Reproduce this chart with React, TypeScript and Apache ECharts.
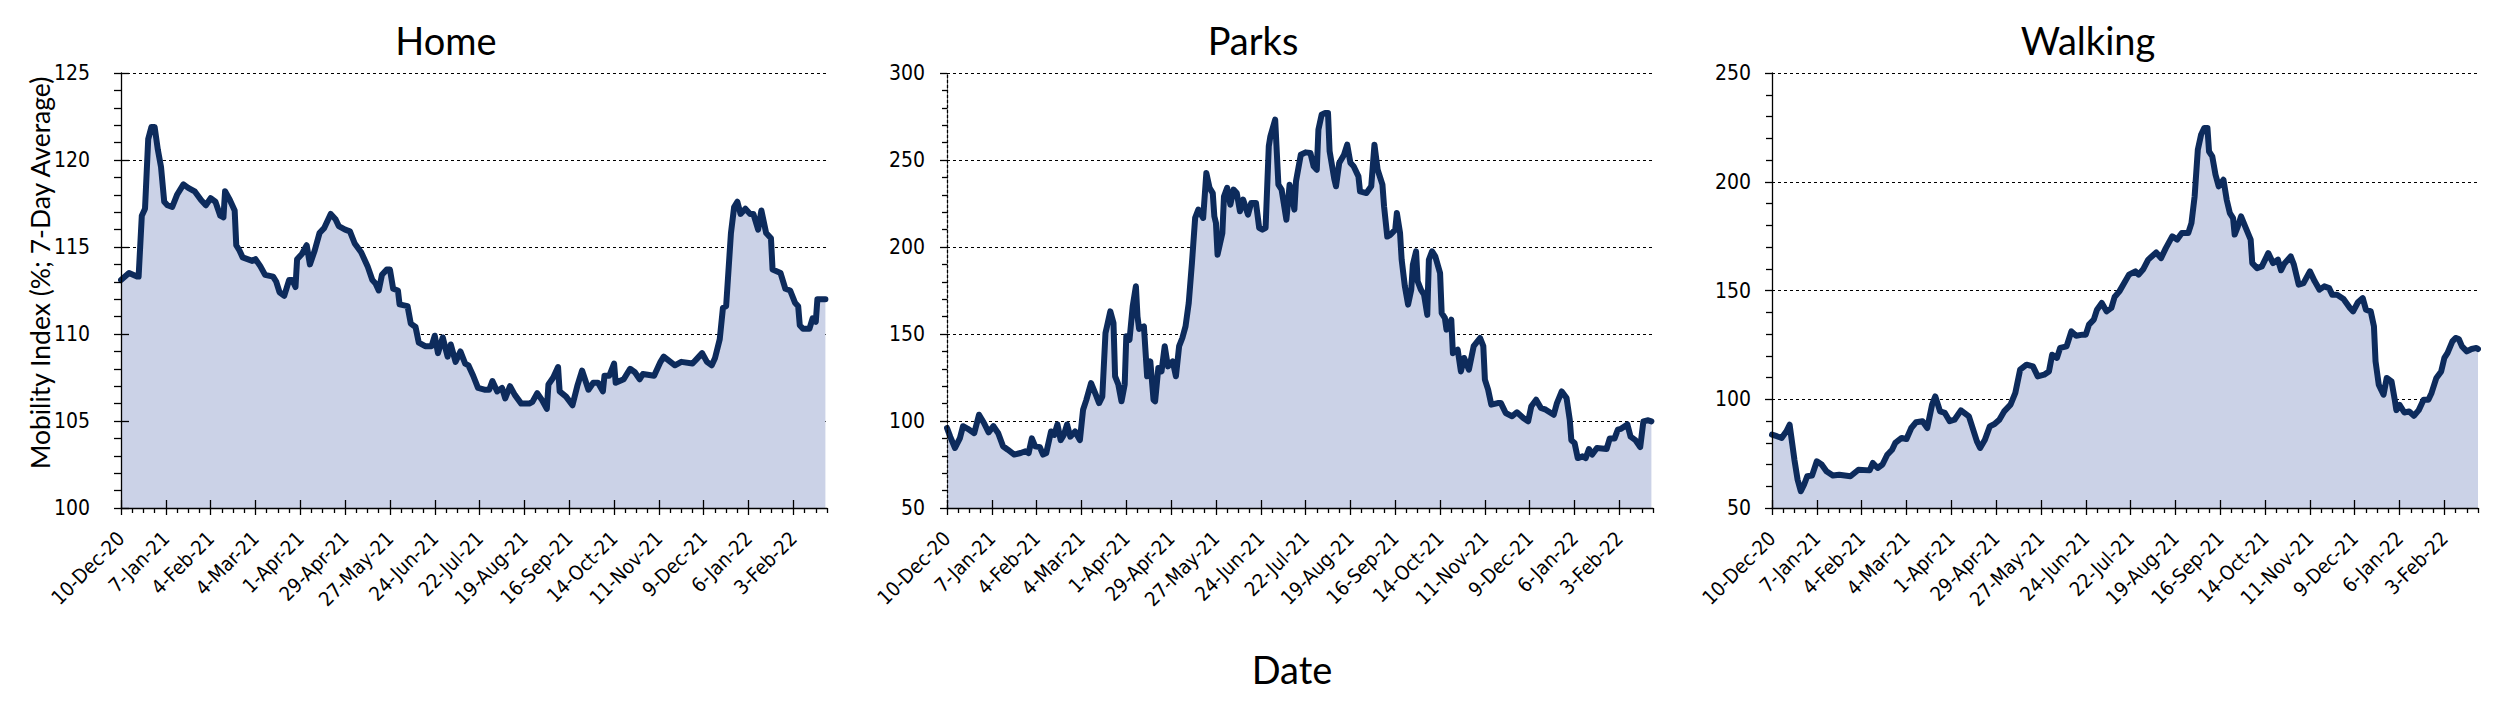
import React, { useEffect, useRef } from "react";
import * as echarts from "echarts";

// Day offsets from 10-Dec-20 of the labelled (major) ticks, and their labels
const majorDays = [0, 28, 56, 84, 112, 140, 168, 196, 224, 252, 280, 308, 336, 364, 392, 420];
const tickLabels = [
  "10-Dec-20", "7-Jan-21", "4-Feb-21", "4-Mar-21", "1-Apr-21", "29-Apr-21", "27-May-21", "24-Jun-21",
  "22-Jul-21", "19-Aug-21", "16-Sep-21", "14-Oct-21", "11-Nov-21", "9-Dec-21", "6-Jan-22", "3-Feb-22",
];
const minorDays = [
  7, 14, 21, 35, 42, 49, 63, 70, 77, 91, 98, 105, 119, 126, 133, 147, 154, 161, 175, 182, 189,
  203, 210, 217, 231, 238, 245, 259, 266, 273, 287, 294, 301, 315, 322, 329, 343, 350, 357,
  371, 378, 385, 399, 406, 413, 427, 434, 441,
];
const lastDay = 441;

// [day offset from 10-Dec-20, value]
const home: [number, number][] = [
  [0, 113.1], [5, 113.5], [10, 113.3], [11, 113.3], [13, 116.8], [15, 117.2], [17, 121.2], [19, 121.9],
  [21, 121.9], [23, 120.6], [25, 119.6], [27, 117.6], [29, 117.4], [32, 117.3], [35, 118.0], [39, 118.6],
  [42, 118.4], [46, 118.2], [50, 117.7], [53, 117.4], [56, 117.8], [59, 117.6], [62, 116.8], [64, 116.7],
  [65, 118.2], [68, 117.7], [71, 117.1], [72, 115.1], [74, 114.8], [76, 114.4], [82, 114.2], [84, 114.3],
  [87, 113.9], [90, 113.4], [95, 113.3], [97, 113.0], [99, 112.4], [102, 112.2], [105, 113.1], [107, 113.1],
  [109, 112.7], [110, 114.3], [113, 114.6], [116, 115.1], [118, 114.0], [121, 114.8], [124, 115.8],
  [127, 116.1], [131, 116.9], [134, 116.6], [136, 116.2], [140, 116.0], [143, 115.9], [146, 115.2],
  [150, 114.7], [154, 113.9], [157, 113.1], [159, 112.9], [161, 112.5], [163, 113.4], [166, 113.7],
  [168, 113.7], [170, 112.6], [173, 112.5], [174, 111.7], [179, 111.6], [181, 110.6], [184, 110.4],
  [186, 109.5], [190, 109.3], [194, 109.3], [196, 109.9], [198, 108.9], [201, 109.8], [204, 108.7],
  [206, 109.4], [209, 108.4], [212, 109.0], [215, 108.3], [217, 108.2], [220, 107.6], [223, 106.9],
  [227, 106.8], [230, 106.8], [232, 107.3], [235, 106.7], [238, 106.9], [240, 106.3], [243, 107.0],
  [246, 106.5], [250, 106.0], [255, 106.0], [257, 106.1], [260, 106.6], [263, 106.2], [266, 105.7],
  [267, 107.1], [270, 107.5], [273, 108.1], [274, 106.7], [278, 106.4], [282, 105.9], [285, 107.0],
  [288, 107.9], [292, 106.8], [295, 107.2], [298, 107.2], [301, 106.7], [302, 107.6], [305, 107.6],
  [308, 108.3], [309, 107.2], [314, 107.4], [318, 108.0], [321, 107.8], [324, 107.4], [326, 107.7],
  [333, 107.6], [337, 108.4], [339, 108.7], [346, 108.2], [350, 108.4], [357, 108.3], [360, 108.6],
  [363, 108.9], [366, 108.4], [369, 108.2], [371, 108.6], [374, 109.7], [376, 111.5], [378, 111.6],
  [381, 115.8], [383, 117.3], [385, 117.6], [387, 116.9], [390, 117.2], [393, 116.9], [395, 116.9],
  [398, 116.0], [400, 117.1], [403, 115.8], [406, 115.5], [407, 113.7], [412, 113.5], [415, 112.6],
  [418, 112.5], [421, 111.8], [423, 111.6], [424, 110.5], [426, 110.3], [430, 110.3], [432, 110.9],
  [434, 110.7], [435, 112.0], [440, 112.0],
];

const parks: [number, number][] = [
  [0, 96], [2, 91], [5, 84.5], [8, 90], [10, 97], [13, 95.5], [17, 93], [20, 103.6], [23, 99], [26, 93.5],
  [29, 97], [32, 93], [35, 85.5], [38, 83.5], [42, 80.7], [46, 81.6], [49, 82.6], [51, 81.6], [53, 90],
  [55, 85.5], [58, 85], [60, 80.7], [62, 81.6], [65, 94], [67, 92], [69, 98], [71, 89], [73, 92], [75, 98],
  [77, 91], [80, 94], [83, 89], [85, 106.5], [87, 112], [90, 121.8], [93, 115], [95, 110.3], [97, 114],
  [99, 150.6], [100, 154.6], [102, 163], [104, 156.3], [105, 125.7], [107, 121], [109, 111.3], [111, 121],
  [112, 148.7], [114, 146.7], [116, 166], [118, 177.4], [119, 160], [120, 152.9], [123, 154.4],
  [125, 125.7], [127, 134.3], [129, 112.2], [130, 111.3], [132, 130.5], [134, 128.5], [136, 143],
  [138, 131.4], [141, 134.3], [143, 125.7], [145, 143], [147, 147.7], [149, 154.4], [151, 167.8],
  [153, 190.8], [155, 216.7], [157, 221.5], [160, 216.7], [162, 242.5], [164, 234], [166, 231],
  [167, 217.6], [168, 213.8], [169, 195.6], [172, 208], [173, 229], [175, 234], [177, 224.3], [179, 233],
  [181, 231], [183, 220.5], [185, 227.2], [188, 218.6], [190, 225.3], [193, 225.3], [195, 211], [197, 210],
  [199, 211], [201, 257.9], [202, 263.6], [205, 273.2], [207, 235.8], [209, 233], [212, 215.7],
  [214, 235.8], [217, 221.5], [218, 237.7], [221, 253], [224, 254.4], [227, 254], [229, 246.4],
  [231, 244.4], [232, 267.4], [234, 276], [236, 277], [238, 277], [239, 255], [242, 238.7], [243, 234.9],
  [245, 248.3], [248, 253], [250, 258.8], [252, 248.3], [254, 246.4], [257, 240.6], [258, 232], [262, 231],
  [265, 234.9], [267, 258.8], [269, 244.4], [272, 235.8], [273, 223.4], [275, 206], [277, 207], [280, 210],
  [281, 219.5], [283, 208], [284, 192.7], [286, 177.4], [288, 166.9], [290, 175.5], [291, 189.8],
  [293, 197.5], [294, 180.3], [296, 175.5], [298, 172.6], [300, 161], [301, 192.7], [303, 197.5],
  [305, 194.6], [308, 185], [309, 162], [311, 159.2], [312, 152.5], [315, 158.2], [316, 139], [319, 141],
  [321, 128.5], [323, 136.2], [326, 129.5], [329, 143], [333, 147.7], [335, 143], [336, 123.8], [338, 118],
  [340, 109.4], [344, 110.3], [346, 110.3], [349, 104.6], [353, 102.7], [356, 105], [360, 101.7],
  [363, 99.8], [365, 108.5], [368, 112.2], [371, 107.5], [374, 106.5], [379, 103.6], [381, 110.3],
  [384, 117], [387, 113.2], [389, 100.7], [390, 89], [392, 87.4], [394, 78.7], [397, 79.7], [399, 78.7],
  [401, 83.9], [403, 80.7], [406, 84.5], [412, 83.9], [414, 90], [417, 90], [419, 95], [421, 95.5],
  [425, 98], [427, 91], [430, 89], [433, 85], [435, 99.8], [438, 100.4], [440, 99.8],
];

const walking: [number, number][] = [
  [0, 83.7], [3, 83], [6, 82.2], [9, 85.3], [11, 88.3], [12, 83], [14, 72.2], [16, 63], [18, 57.7],
  [20, 60.7], [22, 64.6], [25, 64.9], [28, 71.5], [31, 70], [34, 66.9], [38, 64.9], [42, 65.3], [49, 64.6],
  [54, 67.6], [61, 67.3], [63, 70.7], [66, 68.4], [69, 70], [72, 74.5], [75, 76.8], [77, 79.9], [81, 82.2],
  [84, 81.7], [87, 86.8], [90, 89.4], [94, 89.9], [97, 86.8], [100, 97.5], [102, 101.3], [105, 94.4],
  [108, 93.7], [111, 89.9], [114, 90.6], [118, 94.9], [123, 92.1], [125, 87.5], [128, 80.6], [130, 77.6],
  [133, 81.4], [136, 87.5], [139, 88.6], [142, 90.6], [145, 94.4], [149, 97.5], [152, 102.9], [155, 113.6],
  [159, 115.9], [163, 115.1], [166, 110.5], [170, 111.3], [173, 112.8], [175, 120.5], [178, 119],
  [180, 123.6], [184, 124.3], [187, 131.2], [190, 129.2], [194, 129.7], [196, 129.7], [198, 134.3],
  [201, 136.6], [203, 141.2], [206, 144.3], [209, 140.4], [212, 142], [214, 147], [217, 149.6],
  [220, 153.4], [223, 157.3], [227, 158.8], [229, 157.3], [232, 159.9], [235, 164.2], [240, 167.5],
  [243, 164.9], [246, 169.5], [250, 174.9], [253, 173.4], [256, 176.4], [260, 176.4], [262, 181],
  [264, 193.3], [266, 214.8], [268, 221.6], [270, 224.7], [272, 224.7], [273, 213.9], [275, 211.7],
  [277, 203.3], [279, 197.9], [282, 200.9], [284, 191.8], [286, 185.6], [288, 183.3], [289, 175.7],
  [291, 179.5], [293, 184.1], [296, 178.7], [299, 173.4], [300, 162.6], [303, 160.3], [306, 161.1],
  [310, 167.2], [313, 162.6], [316, 164.2], [318, 159.3], [320, 162.3], [324, 165.7], [326, 161.9],
  [329, 152.7], [332, 153.4], [336, 158.8], [339, 154.2], [342, 150.4], [345, 151.9], [348, 151.1],
  [350, 148], [353, 148], [357, 146.1], [361, 142], [363, 140.4], [366, 144.6], [369, 146.5], [371, 141.2],
  [374, 140.4], [376, 133.5], [377, 117.4], [379, 106.7], [382, 102.1], [384, 109.8], [387, 108.2],
  [389, 99.8], [390, 95], [392, 97.4], [395, 93.9], [398, 94.4], [401, 92.4], [404, 95], [407, 99.8],
  [410, 99.8], [412, 102.9], [415, 109.8], [418, 112.8], [420, 119], [422, 121.3], [425, 126.6],
  [427, 128.2], [429, 127.7], [431, 124.3], [434, 122], [437, 123.1], [440, 123.6], [441, 123.1],
];

const titles = ["Home", "Parks", "Walking"];
const yMins = [100, 50, 50];
const yMaxs = [125, 300, 250];
const yIntervals = [5, 50, 50];

const LINE = "#0d2b5c";
const FILL = "#cbd2e7";
const TICK_FONT = "'DejaVu Sans Condensed', 'DejaVu Sans'";
const TEXT_FONT = "Lato";

export default function App() {
  const ref = useRef<HTMLDivElement>(null);

  useEffect(() => {
    if (!ref.current) return;
    const chart = echarts.init(ref.current, undefined, { renderer: "svg" });

    const series = [home, parks, walking];
    const lefts = [121, 947, 1772];
    const titleX = [446, 1253, 2088];
    const labelMargins = [31, 22, 21];
    const minorLens = [7, 5, 6];

    const grids: any[] = [];
    const xAxes: any[] = [];
    const yAxes: any[] = [];
    const seriesOpts: any[] = [];
    const blackLine = { color: "#000", width: 1.3 };

    for (let i = 0; i < 3; i++) {
      grids.push({ left: lefts[i], top: 73, width: 706, height: 435, containLabel: false });
      const xBase = {
        type: "value",
        gridIndex: i,
        position: "bottom",
        min: 0,
        max: lastDay,
        splitLine: { show: false },
        z: 5,
      };
      xAxes.push({
        ...xBase,
        interval: 28,
        axisLine: { show: true, onZero: false, lineStyle: blackLine },
        axisTick: { show: true, length: 7, customValues: majorDays, lineStyle: blackLine },
        axisLabel: {
          show: true,
          customValues: majorDays,
          rotate: 45,
          margin: 27,
          hideOverlap: false,
          fontFamily: TICK_FONT,
          fontSize: 20,
          color: "#000",
          formatter: (v: number) => {
            const k = majorDays.indexOf(Math.round(v));
            return k >= 0 ? tickLabels[k] : "";
          },
        },
      });
      xAxes.push({
        ...xBase,
        interval: 28,
        axisLine: { show: false, onZero: false },
        axisTick: { show: true, inside: true, length: 8, customValues: majorDays, lineStyle: blackLine },
        axisLabel: { show: false },
      });
      xAxes.push({
        ...xBase,
        interval: 7,
        axisLine: { show: false, onZero: false },
        axisTick: { show: true, length: 5, customValues: minorDays, lineStyle: blackLine },
        axisLabel: { show: false },
      });

      const yBase = {
        type: "value",
        gridIndex: i,
        position: "left",
        min: yMins[i],
        max: yMaxs[i],
        interval: yIntervals[i],
      };
      yAxes.push({
        ...yBase,
        z: 0,
        axisLine: { show: false, onZero: false },
        axisTick: { show: false },
        axisLabel: { show: false },
        splitLine: { show: true, lineStyle: { color: "#000", width: 1, type: [3, 3] } },
      });
      yAxes.push({
        ...yBase,
        z: 5,
        axisLine: {
          show: true,
          onZero: false,
          lineStyle: { color: "#000", width: 1.3, type: i === 1 ? [3, 2] : "solid" },
        },
        axisTick: { show: true, length: 7, lineStyle: blackLine },
        minorTick: { show: true, splitNumber: 5, length: minorLens[i], lineStyle: blackLine },
        axisLabel: {
          show: true,
          margin: labelMargins[i],
          fontFamily: TICK_FONT,
          fontSize: 21,
          color: "#000",
        },
        splitLine: { show: false },
      });
      yAxes.push({
        ...yBase,
        z: 5,
        axisLine: { show: false, onZero: false },
        axisTick: { show: i === 0, inside: true, length: 8, lineStyle: blackLine },
        axisLabel: { show: false },
        splitLine: { show: false },
      });

      seriesOpts.push({
        type: "line",
        name: titles[i],
        xAxisIndex: i * 3,
        yAxisIndex: i * 3 + 1,
        data: series[i],
        showSymbol: false,
        symbol: "none",
        z: 2,
        lineStyle: { color: LINE, width: 6, join: "round", cap: "round" },
        areaStyle: { color: FILL, opacity: 1, origin: "start" },
      });
    }

    const textStyle = (text: string, size: number) => ({
      text,
      font: `${size}px ${TEXT_FONT}`,
      fontFamily: TEXT_FONT,
      fontSize: size,
      fill: "#000",
      align: "center",
      verticalAlign: "middle",
      textAlign: "center",
      textVerticalAlign: "middle",
    });

    const graphic: any[] = titles.map((t, i) => ({
      type: "text",
      x: titleX[i],
      y: 40,
      style: textStyle(t, 38),
    }));
    graphic.push({
      type: "text",
      x: 40,
      y: 273,
      rotation: Math.PI / 2,
      style: textStyle("Mobility Index (%; 7-Day Average)", 26.5),
    });
    graphic.push({ type: "text", x: 1292, y: 669, style: textStyle("Date", 38) });

    chart.setOption({
      animation: false,
      backgroundColor: "#fff",
      grid: grids,
      xAxis: xAxes,
      yAxis: yAxes,
      series: seriesOpts,
      graphic,
    });

    return () => chart.dispose();
  }, []);

  return (
    <div
      ref={ref}
      style={{ position: "fixed", left: 0, top: 0, width: 2518, height: 702, background: "#fff" }}
    />
  );
}
